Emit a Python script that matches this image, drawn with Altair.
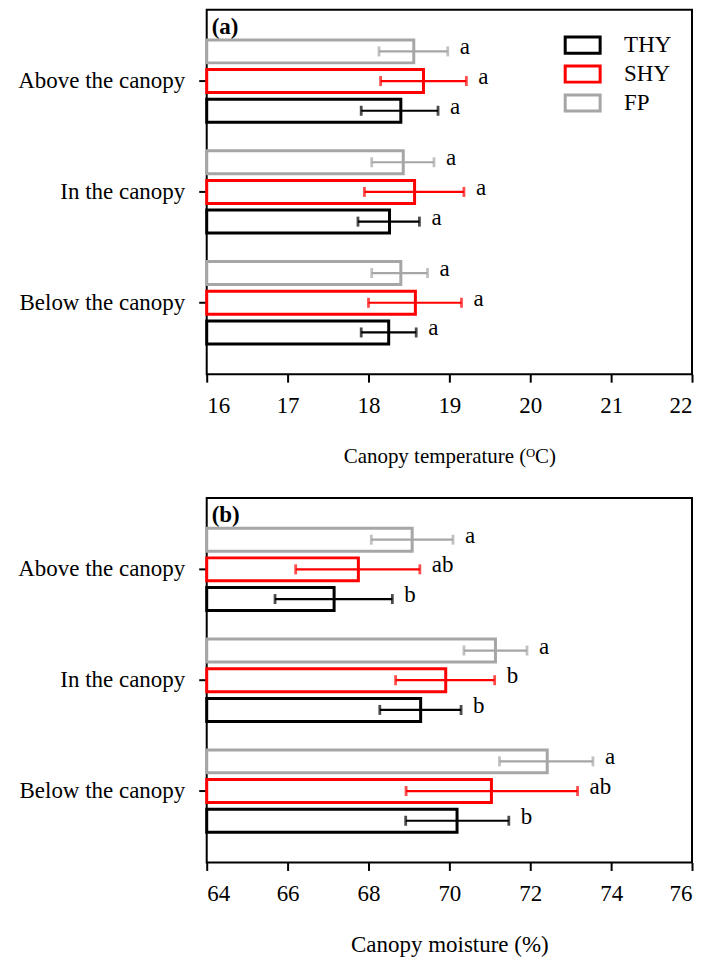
import altair as alt
import pandas as pd

positions = ["Above the canopy", "In the canopy", "Below the canopy"]
treatments = ["THY", "SHY", "FP"]
colors = ["#000000", "#FF0000", "#A6A6A6"]

# Panel (a): canopy temperature
temp_mean = {"THY": [18.40, 18.26, 18.25], "SHY": [18.68, 18.57, 18.58], "FP": [18.56, 18.43, 18.40]}
temp_low = {"THY": [17.91, 17.87, 17.91], "SHY": [18.15, 17.95, 18.00], "FP": [18.13, 18.04, 18.04]}
temp_high = {"THY": [18.86, 18.63, 18.59], "SHY": [19.21, 19.18, 19.15], "FP": [18.98, 18.81, 18.73]}
temp_letters = {"THY": ["a", "a", "a"], "SHY": ["a", "a", "a"], "FP": ["a", "a", "a"]}
temp_ticks = [16, 17, 18, 19, 20, 21, 22]

# Panel (b): canopy moisture
moist_mean = {"THY": [67.15, 69.29, 70.19], "SHY": [67.75, 69.91, 71.04], "FP": [69.08, 71.14, 72.42]}
moist_low = {"THY": [65.69, 68.28, 68.92], "SHY": [66.20, 68.67, 68.93], "FP": [68.07, 70.36, 71.24]}
moist_high = {"THY": [68.59, 70.29, 71.47], "SHY": [69.27, 71.12, 73.17], "FP": [70.09, 71.92, 73.55]}
moist_letters = {"THY": ["b", "b", "b"], "SHY": ["ab", "b", "ab"], "FP": ["a", "a", "a"]}
moist_ticks = [64, 66, 68, 70, 72, 74, 76]

FONT = "Liberation Serif"


def build_df(mean, low, high, letters):
    rows = []
    for t in treatments:
        for i, p in enumerate(positions):
            rows.append({"position": p, "treatment": t, "mean": mean[t][i],
                         "low": low[t][i], "high": high[t][i], "letter": letters[t][i]})
    return pd.DataFrame(rows)


def panel(df, ticks, title, title_size, label, show_legend):
    y = alt.Y("position:N", sort=positions, title=None,
              scale=alt.Scale(paddingInner=0, paddingOuter=0.144),
              axis=alt.Axis(labelFont=FONT, labelFontSize=23))
    yoff = alt.YOffset("treatment:N", sort=["FP", "SHY", "THY"],
                       scale=alt.Scale(paddingInner=0.226, paddingOuter=0.48))
    xscale = alt.Scale(domain=[ticks[0], ticks[-1]], zero=False, nice=False)
    legend = alt.Legend(title=None, orient="none", legendX=365, legendY=24,
                        symbolType="M-2,-0.92H2V0.92H-2Z", symbolSize=306,
                        symbolStrokeWidth=3, symbolFillColor="white",
                        labelFont=FONT, labelFontSize=23, labelColor="black",
                        labelOffset=30, rowPadding=0, padding=0) if show_legend else None
    cscale = alt.Scale(domain=treatments, range=colors)
    stroke = alt.Stroke("treatment:N", scale=cscale, legend=legend)
    stroke_nl = alt.Stroke("treatment:N", scale=cscale, legend=None)
    fill_nl = alt.Fill("treatment:N", scale=cscale, legend=None)

    base = alt.Chart(df)
    bars = base.mark_bar(filled=False, strokeWidth=3).encode(
        x=alt.X("mean:Q", scale=xscale,
                axis=alt.Axis(values=ticks, title=title, format="d",
                              labelFont=FONT, labelFontSize=23,
                              titleFont=FONT, titleFontSize=title_size)),
        x2=alt.datum(ticks[0]),
        y=y, yOffset=yoff, stroke=stroke,
    )
    rule = base.mark_rule(strokeWidth=2.2).encode(
        x="low:Q", x2="high:Q", y=y, yOffset=yoff, stroke=stroke_nl)
    cap_lo = base.mark_tick(thickness=2.8, size=10).encode(
        x="low:Q", y=y, yOffset=yoff, fill=fill_nl)
    cap_hi = base.mark_tick(thickness=2.8, size=10).encode(
        x="high:Q", y=y, yOffset=yoff, fill=fill_nl)
    letters = base.mark_text(align="left", baseline="alphabetic", dx=12, dy=3,
                             font=FONT, fontSize=23, color="black").encode(
        x="high:Q", y=y, yOffset=yoff, text="letter:N")
    tag = alt.Chart(pd.DataFrame({"label": [label]})).mark_text(
        align="left", baseline="alphabetic", font=FONT, fontSize=23,
        fontWeight="bold", color="black").encode(
        x=alt.value(5), y=alt.value(24), text="label:N")
    return alt.layer(bars, rule, cap_lo, cap_hi, letters, tag).resolve_scale(
        stroke="shared", fill="independent").properties(width=486, height=365)


df_a = build_df(temp_mean, temp_low, temp_high, temp_letters)
df_b = build_df(moist_mean, moist_low, moist_high, moist_letters)

pa = panel(df_a, temp_ticks, "Canopy temperature (ᴼC)", 21, "(a)", True)
pb = panel(df_b, moist_ticks, "Canopy moisture (%)", 23, "(b)", False)

chart = alt.vconcat(pa, pb, spacing=30).resolve_scale(
    x="independent", y="independent", yOffset="independent"
).properties(
    padding={"left": 8, "top": 0, "right": 5, "bottom": 0}
).configure_view(
    stroke="black", strokeWidth=2
).configure_axis(
    labelFont=FONT, labelFontSize=23, labelColor="black",
    titleFont=FONT, titleFontSize=22, titleFontWeight="normal", titleColor="black",
    tickColor="black", tickWidth=2, tickSize=8, grid=False, domain=False,
    labelPadding=12, titlePadding=28,
).configure_axisY(labelPadding=14)

chart.save("out.html", embed_options={"renderer": "svg", "actions": False})
